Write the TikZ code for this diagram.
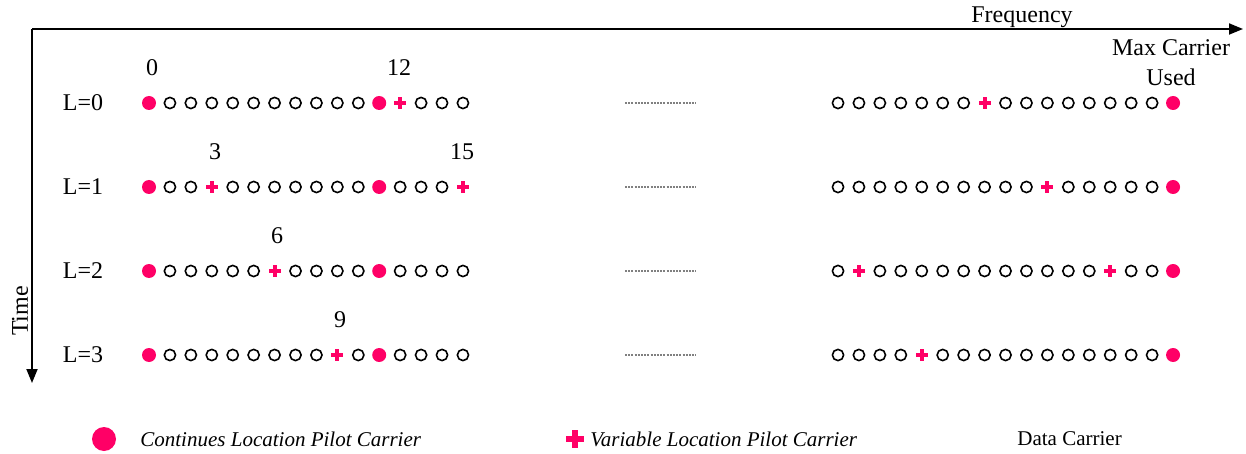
\documentclass[tikz,border=0pt]{standalone}
\usepackage{fontspec}
\setmainfont{Liberation Serif}
\usetikzlibrary{arrows.meta}
\definecolor{pilot}{RGB}{255,0,102}
\tikzset{
  dat/.style={circle,draw=black,line width=0.8pt,minimum size=5.6pt,inner sep=0pt},
  cpilot/.style={circle,fill=pilot,minimum size=7pt,inner sep=0pt},
  cpbig/.style={circle,fill=pilot,minimum size=12pt,inner sep=0pt},
  lab/.style={font=\fontsize{12}{14}\selectfont,inner sep=0pt},
  leg/.style={font=\fontsize{10.5}{12}\selectfont,inner sep=0pt},
  axis/.style={line width=0.9pt,-{Triangle[length=7pt,width=5.5pt]}},
  gap/.style={draw=gray,line width=0.6pt,dash pattern=on 1pt off 0.6pt},
  vpilot/.pic={\fill[pilot] (-6,-2) rectangle (6,2); \fill[pilot] (-2,-6) rectangle (2,6);},
  vpbig/.pic={\fill[pilot] (-9,-3) rectangle (9,3); \fill[pilot] (-3,-9) rectangle (3,9);}
}
\begin{document}
\begin{tikzpicture}[x=0.5pt,y=-0.5pt]
\useasboundingbox (0,0) rectangle (1246,454);
% axes
\coordinate (origin) at (32,29);
\coordinate (fend) at (1243,29);
\coordinate (tend) at (32,383);
\draw[axis] (origin) -- (fend);
\draw[axis] (origin) -- (tend);
\node[lab] (freq) at (1022,17) {Frequency};
\node[lab,rotate=90] (time) at (20,311) {Time};
\node[lab,align=center] (maxc) at (1171,63) {Max Carrier\\[1pt]Used};
% rows: y, variable positions left, variable positions right
\foreach \r/\y/\vl/\vr in {0/103/{12}/{7},1/187/{3,15}/{10},2/271/{6}/{1,13},3/355/{9}/{4}}{
  \node[lab] (L\r) at (83,\y) {L=\r};
  % left group
  \foreach \k in {0,...,15}{
    \pgfmathsetmacro{\xx}{149+20.93*\k}
    \def\kind{dat}
    \foreach \v in \vl {\ifnum\k=\v\relax\xdef\kind{vp}\fi}
    \ifnum\k=0\relax\def\kind{cp}\fi
    \ifnum\k=11\relax\def\kind{cp}\fi
    \edef\tmp{\kind}
    \def\cpk{cp}\def\vpk{vp}
    \ifx\tmp\cpk
      \node[cpilot] (l\r-\k) at (\xx,\y) {};
    \else\ifx\tmp\vpk
      \coordinate (l\r-\k) at (\xx,\y);
      \pic at (l\r-\k) {vpilot};
    \else
      \node[dat] (l\r-\k) at (\xx,\y) {};
    \fi\fi
    \global\let\kind\relax
  }
  % right group
  \foreach \k in {0,...,16}{
    \pgfmathsetmacro{\xx}{838+20.94*\k}
    \def\kind{dat}
    \foreach \v in \vr {\ifnum\k=\v\relax\xdef\kind{vp}\fi}
    \ifnum\k=16\relax\def\kind{cp}\fi
    \edef\tmp{\kind}
    \def\cpk{cp}\def\vpk{vp}
    \ifx\tmp\cpk
      \node[cpilot] (r\r-\k) at (\xx,\y) {};
    \else\ifx\tmp\vpk
      \coordinate (r\r-\k) at (\xx,\y);
      \pic at (r\r-\k) {vpilot};
    \else
      \node[dat] (r\r-\k) at (\xx,\y) {};
    \fi\fi
    \global\let\kind\relax
  }
  \coordinate (ga\r) at (625,\y);
  \coordinate (gb\r) at (696,\y);
  \draw[gap] (ga\r) -- (gb\r);
}
% index labels
\node[lab] (n0) at (152,68) {0};
\node[lab] (n12) at (399,68) {12};
\node[lab] (n3) at (215,152) {3};
\node[lab] (n15) at (462,152) {15};
\node[lab] (n6) at (277,236) {6};
\node[lab] (n9) at (340,320) {9};
% legend
\node[cpbig] (legc) at (104,439) {};
\node[leg,anchor=west] (legct) at (140,439) {\itshape Continues Location Pilot Carrier};
\coordinate (legv) at (575,439);
\pic at (legv) {vpbig};
\node[leg,anchor=west] (legvt) at (590,439) {\itshape Variable Location Pilot Carrier};
\node[leg,anchor=west] (legd) at (1017,439) {Data Carrier};
\end{tikzpicture}
\end{document}
